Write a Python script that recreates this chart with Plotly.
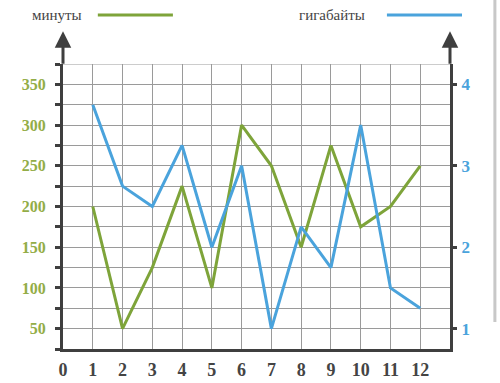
import plotly.graph_objects as go

months = [1, 2, 3, 4, 5, 6, 7, 8, 9, 10, 11, 12]
minutes = [200, 50, 125, 225, 100, 300, 250, 150, 275, 175, 200, 250]
gigabytes = [3.75, 2.75, 2.5, 3.25, 2.0, 3.0, 1.0, 2.25, 1.75, 3.5, 1.5, 1.25]
x_ticks = [0, 1, 2, 3, 4, 5, 6, 7, 8, 9, 10, 11, 12]
left_ticks = [50, 100, 150, 200, 250, 300, 350]
right_ticks = [1, 2, 3, 4]

GREEN = "#7ea43a"
GREEN_T = "#93ad47"
BLUE = "#4aa3dc"
AX = "#3f3f3f"
GRID = "#9a9a9a"
SERIF = "Liberation Serif, Times New Roman, serif"

fig = go.Figure()
fig.add_trace(go.Scatter(x=months, y=minutes, mode="lines",
                         line=dict(color=GREEN, width=3), name="минуты"))
fig.add_trace(go.Scatter(x=months, y=gigabytes, mode="lines", yaxis="y2",
                         line=dict(color=BLUE, width=3), name="гигабайты"))

fig.update_layout(
    width=500, height=383,
    margin=dict(l=63, r=50, t=64, b=34, autoexpand=False),
    paper_bgcolor="white", plot_bgcolor="white",
    showlegend=False,
    font=dict(family=SERIF),
    xaxis=dict(range=[0, 13], tickvals=x_ticks, showgrid=True, gridcolor=GRID,
               gridwidth=1, zeroline=False, showline=True, linecolor=AX,
               linewidth=3, ticks="", ticklabelstandoff=2, automargin=False,
               tickfont=dict(family=SERIF, size=18, color="#444444", weight="bold")),
    yaxis=dict(range=[25, 375], tickvals=left_ticks, showgrid=True, gridcolor=GRID,
               gridwidth=1, zeroline=False, showline=True, linecolor=AX,
               linewidth=3, ticks="outside", ticklen=5, tickwidth=3, tickcolor=AX,
               ticklabelstandoff=6, automargin=False,
               minor=dict(tick0=25, dtick=25, showgrid=True, gridcolor=GRID,
                          gridwidth=1, ticks="outside", ticklen=5, tickwidth=3,
                          tickcolor=AX),
               tickfont=dict(family=SERIF, size=16, color=GREEN_T, weight="bold")),
    yaxis2=dict(range=[0.75, 4.25], tickvals=right_ticks, overlaying="y",
                side="right", showgrid=False, zeroline=False, showline=True,
                linecolor=AX, linewidth=3, ticks="outside", ticklen=4,
                tickwidth=3, tickcolor=AX, ticklabelstandoff=1, automargin=False,
                tickfont=dict(family=SERIF, size=17, color=BLUE, weight="bold")),
)

# top grid line
fig.add_shape(type="line", xref="paper", yref="y", x0=0, x1=1, y0=375, y1=375,
              line=dict(color=GRID, width=1), layer="below")

# axis arrows
for xr in (0, 13):
    fig.add_annotation(x=xr, xref="x", y=1.115, yref="paper", ax=0, ay=34,
                       axref="pixel", ayref="pixel", text="", showarrow=True,
                       arrowhead=2, arrowsize=1.1, arrowwidth=3, arrowcolor=AX)

# legend (text then line)
fig.add_annotation(x=0.055, y=1.172, xref="paper", yref="paper", text="минуты",
                   showarrow=False, xanchor="right", yanchor="middle",
                   font=dict(family=SERIF, size=15, color="#444444"))
fig.add_shape(type="line", xref="paper", yref="paper", x0=0.09, x1=0.284,
              y0=1.172, y1=1.172, line=dict(color=GREEN, width=3))
fig.add_annotation(x=0.786, y=1.172, xref="paper", yref="paper", text="гигабайты",
                   showarrow=False, xanchor="right", yanchor="middle",
                   font=dict(family=SERIF, size=15, color="#444444"))
fig.add_shape(type="line", xref="paper", yref="paper", x0=0.837, x1=1.031,
              y0=1.172, y1=1.172, line=dict(color=BLUE, width=3))

# page edge bar at right
fig.add_shape(type="line", xref="paper", yref="paper", x0=1.116, x1=1.116,
              y0=0.095, y1=1.23, line=dict(color="#c8c8c8", width=3))

fig.write_html("out.html")
